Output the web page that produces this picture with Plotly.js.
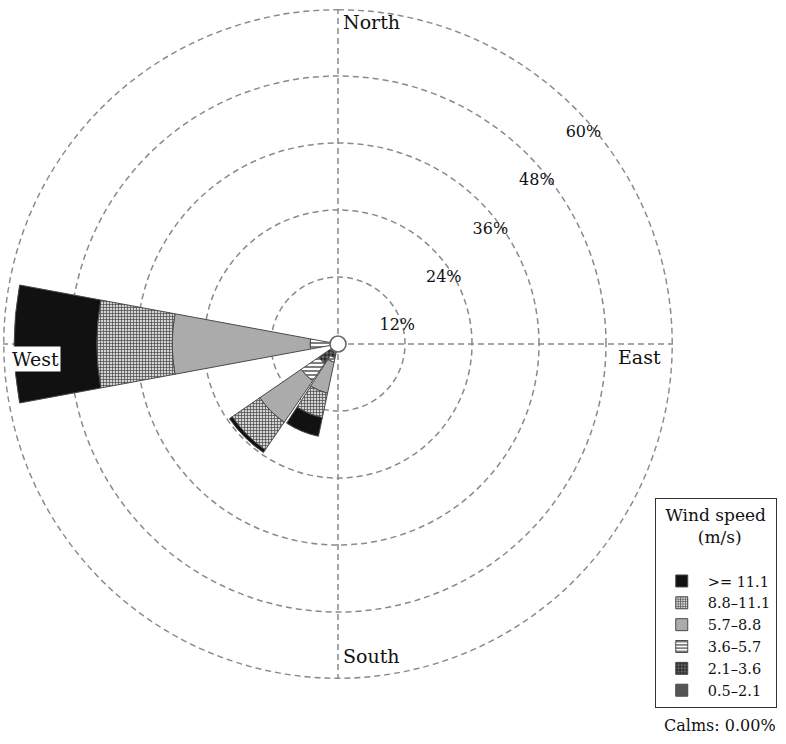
<!DOCTYPE html>
<html>
<head>
<meta charset="utf-8">
<script src="https://cdn.plot.ly/plotly-3.0.1.min.js"></script>
<style>html,body{margin:0;padding:0;background:#fff;}#chart{width:786px;height:744px;}</style>
</head>
<body>
<div id="chart"></div>
<script>
// Directions (compass bearing, degrees)
const directions = ['West', 'SSW', 'SW'];
const bearings = [270, 202.5, 225];

// Wind-speed classes (innermost first)
const speedBins = ['0.5–2.1', '2.1–3.6', '3.6–5.7', '5.7–8.8', '8.8–11.1', '>= 11.1'];

// Frequency (%) per speed class, for [West, SSW, SW]
const f_05_21  = [0.4, 1.0, 1.5];
const f_21_36  = [0.9, 1.5, 2.7];
const f_36_57  = [3.7, 0.8, 3.8];
const f_57_88  = [24.7, 5.7, 9.0];
const f_88_111 = [13.5, 4.5, 6.0];
const f_111up  = [14.8, 3.4, 0.6];

const radialTicks = [12, 24, 36, 48, 60];
const radialTickText = ['12%', '24%', '36%', '48%', '60%'];
const radialLabelBearing = 44;
const compassTicks = [0, 90, 180, 270];
const rMax = 60;

const series = [f_05_21, f_21_36, f_36_57, f_57_88, f_88_111, f_111up];
const styles = [
  {color: '#555555'},
  {color: '#3a3a3a', pattern: {shape: '+', fgcolor: '#111111', bgcolor: '#6a6a6a', size: 4, solidity: 0.4}},
  {color: '#ffffff', pattern: {shape: '-', fgcolor: '#707070', bgcolor: '#ffffff', size: 4, solidity: 0.45}},
  {color: '#ababab'},
  {color: '#999999', pattern: {shape: '+', fgcolor: '#444444', bgcolor: '#d4d4d4', size: 3, solidity: 0.4}},
  {color: '#111111'}
];

const gridColor = '#8a8a8a';
const gridDash = '6px,4px';
const serif = 'DejaVu Serif, Liberation Serif, serif';
const nb = '\u00a0';

// outer 60% ring (grid circle at the radial range limit; half of it is clipped by the plot edge)
const ringTheta = [];
for (let a = 0; a <= 360; a += 1) ringTheta.push(a);
const traces = [{
  type: 'scatterpolar', mode: 'lines',
  r: ringTheta.map(() => rMax), theta: ringTheta,
  showlegend: false, hoverinfo: 'skip',
  line: {color: gridColor, width: 3, dash: gridDash}
}];

series.forEach((vals, i) => traces.push({
  type: 'barpolar',
  name: speedBins[i],
  r: vals,
  theta: bearings,
  width: [21, 21, 21],
  marker: Object.assign({line: {color: '#4a4a4a', width: 1}}, styles[i]),
  hoverinfo: 'name+r'
}));

// calm circle at the centre
traces.push({
  type: 'scatterpolar',
  mode: 'markers',
  r: [0], theta: [0],
  showlegend: false,
  hoverinfo: 'skip',
  cliponaxis: false,
  marker: {size: 16, color: '#ffffff', line: {color: '#666666', width: 1.6}}
});

// radial percentage labels, placed beside the grid circles
traces.push({
  type: 'scatterpolar',
  mode: 'markers+text',
  r: radialTicks,
  theta: radialTicks.map(() => radialLabelBearing),
  text: radialTickText.map(t => nb.repeat(5) + t),
  textposition: 'bottom center',
  marker: {size: 34, opacity: 0, color: '#ffffff'},
  textfont: {family: serif, size: 16, color: '#111'},
  showlegend: false,
  hoverinfo: 'skip',
  cliponaxis: false
});

const layout = {
  width: 786, height: 744,
  margin: {l: 0, r: 0, t: 0, b: 0},
  paper_bgcolor: '#ffffff',
  font: {family: serif, size: 16, color: '#111'},
  showlegend: true,
  legend: {
    x: 0.833, xanchor: 'left', y: 0.331, yanchor: 'top',
    bordercolor: '#333', borderwidth: 1, bgcolor: '#fff',
    traceorder: 'reversed',
    itemwidth: 42,
    font: {family: serif, size: 14.5, color: '#111'},
    title: {text: 'Wind speed<br>' + nb.repeat(6) + '(m/s)<br>' + nb, side: 'top center', font: {family: serif, size: 17, color: '#111'}}
  },
  polar: {
    domain: {x: [3/786, 673/786], y: [1 - 679/744, 1 - 9/744]},
    bgcolor: '#ffffff',
    barmode: 'stack',
    radialaxis: {
      range: [0, rMax],
      tickvals: radialTicks,
      ticktext: radialTickText,
      showticklabels: false,
      showline: false,
      ticks: '',
      showgrid: true,
      gridcolor: gridColor,
      gridwidth: 1.5,
      griddash: gridDash
    },
    angularaxis: {
      rotation: 90,
      direction: 'clockwise',
      tickvals: compassTicks,
      showticklabels: false,
      ticks: '',
      showline: false,
      showgrid: true,
      gridcolor: gridColor,
      gridwidth: 1.5,
      griddash: gridDash
    }
  },
  annotations: [
    {text: 'North', xref: 'paper', yref: 'paper', x: 341/786, y: 1 - 22/744, xanchor: 'left', yanchor: 'middle', showarrow: false, font: {family: serif, size: 19, color: '#111'}},
    {text: 'East', xref: 'paper', yref: 'paper', x: 616/786, y: 1 - 357/744, xanchor: 'left', yanchor: 'middle', showarrow: false, font: {family: serif, size: 19, color: '#111'}},
    {text: 'South', xref: 'paper', yref: 'paper', x: 341/786, y: 1 - 656/744, xanchor: 'left', yanchor: 'middle', showarrow: false, font: {family: serif, size: 19, color: '#111'}},
    {text: 'West', xref: 'paper', yref: 'paper', x: 35.5/786, y: 1 - 359/744, xanchor: 'center', yanchor: 'middle', showarrow: false, bgcolor: '#ffffff', borderpad: 1, font: {family: serif, size: 19, color: '#111'}},
    {text: 'Calms: 0.00%', xref: 'paper', yref: 'paper', x: 778/786, y: 1 - 725/744, xanchor: 'right', yanchor: 'middle', showarrow: false, font: {family: serif, size: 16, color: '#111'}}
  ]
};

Plotly.newPlot('chart', traces, layout, {displayModeBar: false, staticPlot: true});
</script>
</body>
</html>
